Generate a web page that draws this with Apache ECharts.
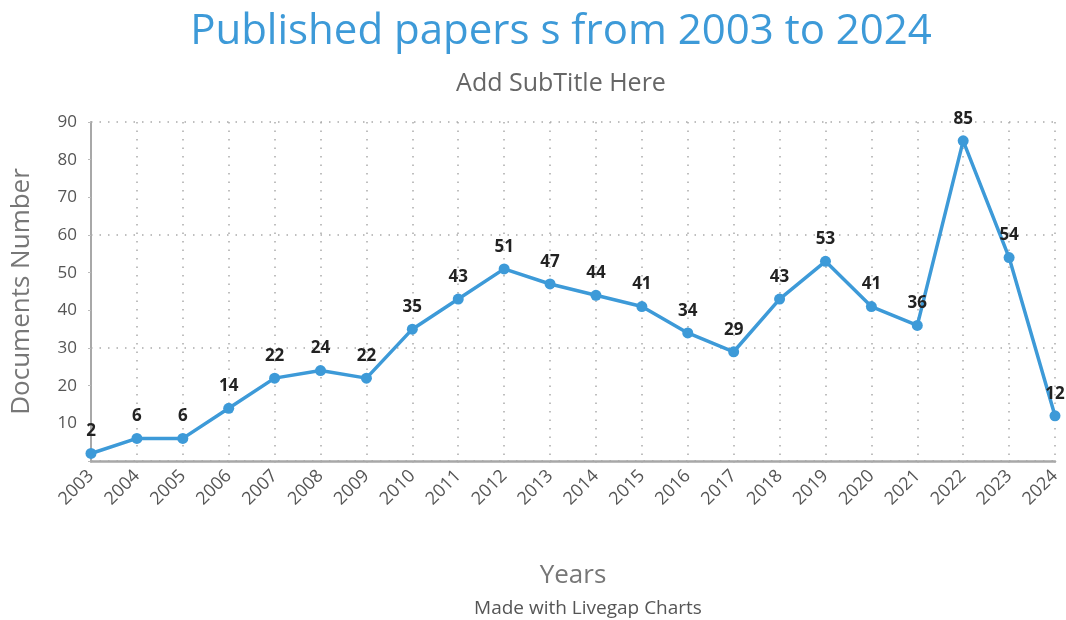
<!DOCTYPE html>
<html>
<head>
<meta charset="utf-8">
<script src="https://cdn.jsdelivr.net/npm/echarts@6/dist/echarts.min.js"></script>
<style>
  html, body { margin: 0; padding: 0; background: #fff; }
  #chart { width: 1066px; height: 620px; }
</style>
</head>
<body>
<div id="chart"></div>
<script>
const years = ['2003', '2004', '2005', '2006', '2007', '2008', '2009', '2010', '2011', '2012', '2013',
  '2014', '2015', '2016', '2017', '2018', '2019', '2020', '2021', '2022', '2023', '2024'];
const papers = [2, 6, 6, 14, 22, 24, 22, 35, 43, 51, 47, 44, 41, 34, 29, 43, 53, 41, 36, 85, 54, 12];
const yMin = 0;
const yMax = 90;

const font = '"Open Sans", "Noto Sans", sans-serif';
const blue = '#3d9ad8';
const dots = [1.5, 7];

const myChart = echarts.init(document.getElementById('chart'));
myChart.setOption({
  animation: false,
  textStyle: { fontFamily: font },
  title: [
    {
      text: 'Published papers s from 2003 to 2024',
      left: 556, top: 6, textAlign: 'center',
      textStyle: { color: blue, fontSize: 42, fontWeight: 'normal', fontFamily: font }
    },
    {
      text: 'Add SubTitle Here',
      left: 556, top: 66, textAlign: 'center',
      textStyle: { color: '#666', fontSize: 25, fontWeight: 'normal', fontFamily: font }
    },
    {
      text: 'Made with Livegap Charts',
      left: 583, top: 594, textAlign: 'center',
      textStyle: { color: '#555', fontSize: 19, fontWeight: 'normal', fontFamily: font }
    }
  ],
  grid: { left: 91, right: 11, top: 122, bottom: 159 },
  xAxis: {
    type: 'category',
    data: years,
    boundaryGap: false,
    name: 'Years',
    nameLocation: 'middle',
    nameGap: 102,
    nameTextStyle: { color: '#777', fontSize: 26 },
    axisLine: { lineStyle: { color: '#a8a8a8', width: 2.5 } },
    axisTick: { show: true, length: 8, lineStyle: { color: '#aaa', type: dots, width: 1.5 } },
    axisLabel: { rotate: 45, color: '#555', fontSize: 18, margin: 12, interval: 0 },
    splitLine: { show: true, lineStyle: { color: '#aaa', type: dots, width: 1.5 } }
  },
  yAxis: [
    {
      type: 'value',
      min: yMin, max: yMax, interval: 10,
      name: 'Documents Number',
      nameLocation: 'middle',
      nameGap: 56,
      nameTextStyle: { color: '#777', fontSize: 26, padding: [0, 0, 0, 0] },
      axisLine: { show: true, lineStyle: { color: '#a8a8a8', width: 2 } },
      axisTick: { show: true, length: 3, lineStyle: { color: '#bbb' } },
      axisLabel: {
        color: '#555', fontSize: 17, margin: 14,
        formatter: (v) => (v === 0 ? '' : v)
      },
      splitLine: { show: false }
    },
    {
      type: 'value',
      min: yMin, max: yMax, interval: 30,
      position: 'left',
      axisLine: { show: false },
      axisTick: { show: false },
      axisLabel: { show: false },
      splitLine: { show: true, lineStyle: { color: '#aaa', type: dots, width: 1.5 } }
    }
  ],
  series: [
    {
      name: 'Papers',
      type: 'line',
      data: papers,
      symbol: 'circle',
      symbolSize: 11,
      lineStyle: { color: blue, width: 3.5 },
      itemStyle: { color: blue },
      label: {
        show: true, position: 'top', distance: 8,
        color: '#222', fontSize: 17, fontWeight: 'bold'
      },
      z: 5
    }
  ]
});
</script>
</body>
</html>
